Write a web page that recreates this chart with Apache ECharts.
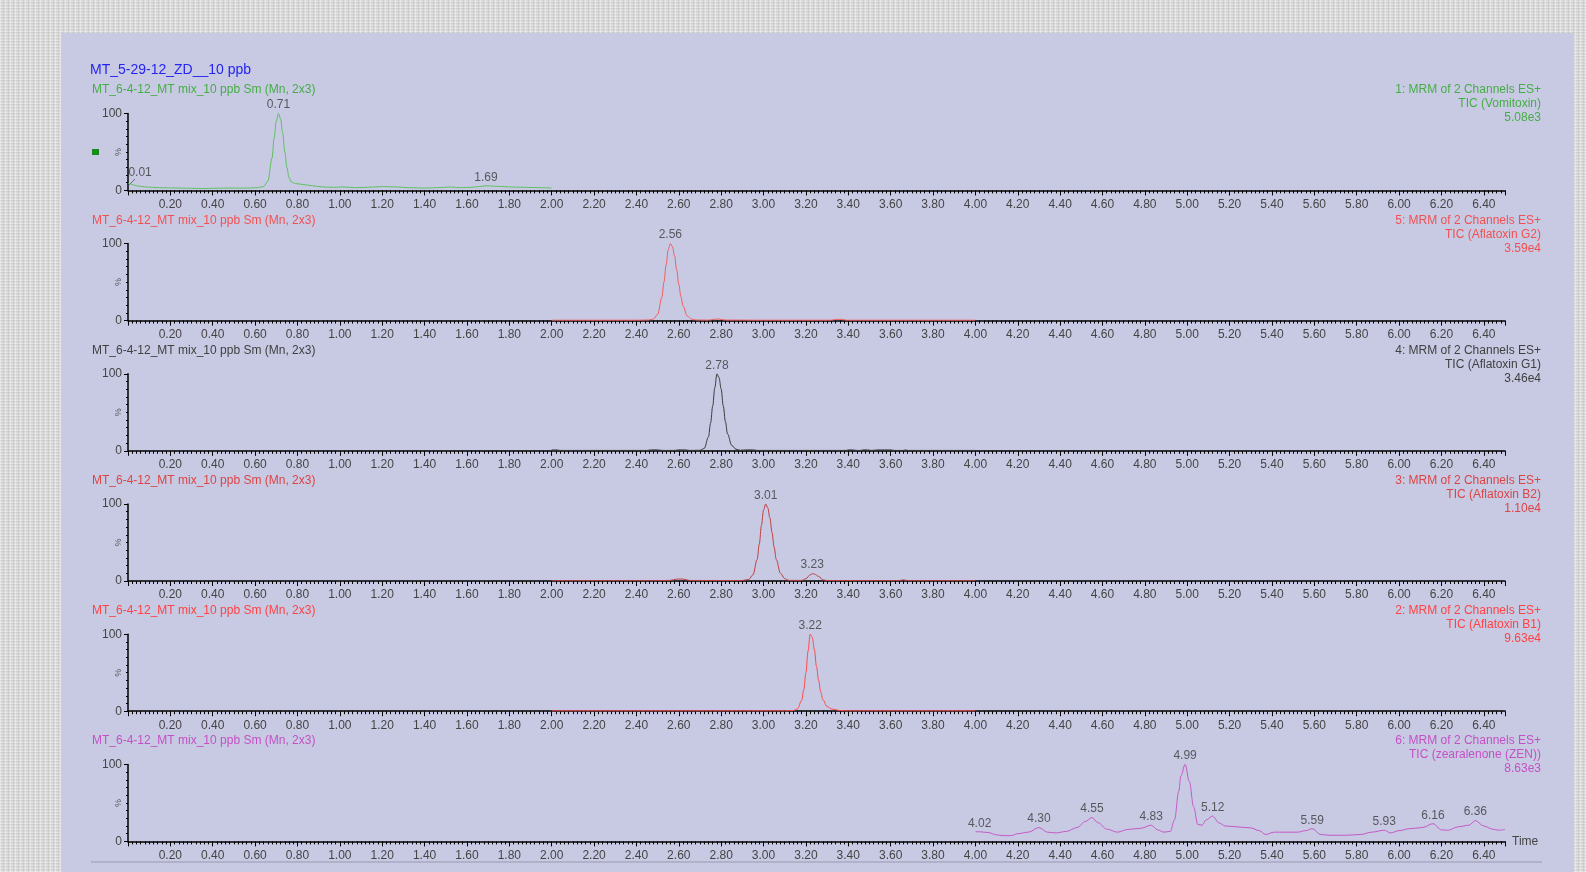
<!DOCTYPE html>
<html>
<head>
<meta charset="utf-8">
<script src="https://cdn.jsdelivr.net/npm/echarts@6.0.0/dist/echarts.min.js"></script>
<style>
  html, body { margin: 0; padding: 0; width: 1586px; height: 872px; overflow: hidden; }
  body {
    background-color: #d9d9d9;
    background-image:
      repeating-linear-gradient(90deg, rgba(255,255,255,0.35) 0 1px, transparent 1px 3px, rgba(0,0,0,0.05) 3px 4px, transparent 4px 5px),
      repeating-linear-gradient(0deg, rgba(255,255,255,0.25) 0 1px, transparent 1px 2px, rgba(0,0,0,0.04) 2px 3px);
  }
  #panel { position: absolute; left: 61px; top: 33px; width: 1513px; height: 839px; background: #c8cae4; }
  #chart { position: absolute; left: 0; top: 0; width: 1586px; height: 872px; }
</style>
</head>
<body>
<div id="panel"></div>
<div id="chart"></div>
<script>
// retention time (min) / relative intensity (%)
var vomitoxin = [
  [0.00, 9], [0.01, 8.5], [0.04, 6], [0.08, 4.5], [0.15, 3.5], [0.25, 3], [0.35, 2.5], [0.45, 3],
  [0.55, 3], [0.61, 3.5], [0.64, 5], [0.66, 12], [0.68, 42], [0.69, 68], [0.70, 90], [0.71, 100],
  [0.72, 93], [0.73, 75], [0.74, 50], [0.75, 30], [0.76, 17], [0.77, 11], [0.79, 9], [0.83, 7.5],
  [0.87, 6], [0.92, 4.5], [0.97, 4], [1.02, 4.5], [1.07, 3.5], [1.13, 4], [1.20, 5], [1.27, 4.5],
  [1.33, 3.5], [1.40, 3], [1.46, 3.5], [1.52, 4.5], [1.57, 3.5], [1.62, 4], [1.66, 5], [1.69, 6],
  [1.73, 5.5], [1.80, 4.5], [1.88, 4], [1.95, 3.5], [2.00, 3]
];
var aflatoxinG2 = [
  [2.00, 0.5], [2.20, 0.5], [2.40, 0.5], [2.46, 0.8], [2.48, 2], [2.50, 8], [2.52, 30], [2.53, 50],
  [2.54, 72], [2.55, 92], [2.56, 100], [2.57, 96], [2.58, 84], [2.59, 66], [2.60, 47], [2.61, 31],
  [2.62, 19], [2.64, 6], [2.66, 2], [2.68, 0.8], [2.74, 0.6], [2.77, 1.8], [2.79, 2], [2.82, 0.7],
  [3.00, 0.5], [3.32, 0.5], [3.34, 1.6], [3.37, 1.6], [3.39, 0.5], [3.70, 0.5], [4.00, 0.5]
];
var aflatoxinG1 = [
  [2.00, 1.2], [2.02, 1.2], [2.04, 0.5], [2.45, 0.5], [2.47, 1.2], [2.50, 1.2], [2.52, 0.5],
  [2.58, 0.5], [2.60, 1.2], [2.63, 1.2], [2.65, 0.5], [2.70, 0.7], [2.72, 3], [2.74, 18], [2.75, 36],
  [2.76, 58], [2.77, 82], [2.78, 100], [2.79, 95], [2.80, 80], [2.81, 58], [2.82, 38], [2.83, 22],
  [2.85, 7], [2.87, 2], [2.89, 0.7], [2.92, 1.2], [2.95, 1.2], [2.97, 0.5], [3.39, 0.5], [3.40, 1.2],
  [3.42, 1.2], [3.44, 0.5], [3.46, 0.5], [3.47, 1.2], [3.49, 1.2], [3.51, 0.5], [3.54, 1.2],
  [3.60, 1.2], [3.62, 0.5], [3.66, 0.5], [3.67, 1.2], [3.68, 0.5], [4.00, 0.5]
];
var aflatoxinB2 = [
  [2.00, 0.5], [2.50, 0.5], [2.56, 0.8], [2.59, 2.5], [2.62, 2.5], [2.65, 0.7], [2.90, 0.6],
  [2.93, 2], [2.95, 8], [2.97, 28], [2.98, 48], [2.99, 72], [3.00, 92], [3.01, 100], [3.02, 95],
  [3.03, 82], [3.04, 63], [3.05, 44], [3.06, 28], [3.08, 10], [3.10, 3], [3.12, 0.8], [3.18, 0.8],
  [3.20, 3], [3.22, 8], [3.23, 9.5], [3.24, 9], [3.26, 6], [3.28, 1.5], [3.30, 0.6], [3.64, 0.5],
  [3.66, 1.5], [3.68, 0.5], [4.00, 0.5]
];
var aflatoxinB1 = [
  [2.00, 0.5], [3.10, 0.5], [3.14, 0.8], [3.16, 3], [3.18, 14], [3.19, 28], [3.20, 50], [3.21, 78],
  [3.22, 100], [3.23, 96], [3.24, 80], [3.25, 58], [3.26, 40], [3.27, 25], [3.28, 15], [3.30, 6],
  [3.32, 3], [3.34, 2], [3.36, 0.8], [3.40, 0.5], [4.00, 0.5]
];
var zearalenone = [
  [4.00, 12.5], [4.02, 12.5], [4.06, 11.5], [4.10, 8.5], [4.13, 7.5], [4.17, 7.5], [4.20, 10],
  [4.25, 12], [4.30, 18], [4.34, 12], [4.38, 11], [4.43, 13], [4.48, 18], [4.52, 26], [4.55, 31],
  [4.58, 24], [4.62, 16], [4.67, 12], [4.72, 15.5], [4.78, 17], [4.83, 21], [4.86, 15], [4.89, 12],
  [4.92, 13], [4.94, 28], [4.96, 65], [4.97, 85], [4.99, 100], [5.01, 78], [5.03, 45], [5.05, 22],
  [5.07, 21], [5.09, 28], [5.12, 33], [5.15, 24], [5.18, 20], [5.23, 19], [5.30, 17.5], [5.34, 14],
  [5.37, 9], [5.41, 12], [5.46, 12], [5.52, 12], [5.56, 14], [5.59, 16.5], [5.63, 9], [5.67, 8],
  [5.75, 8], [5.82, 9], [5.87, 12], [5.93, 14.5], [5.96, 11], [6.00, 14], [6.05, 16.5], [6.11, 18],
  [6.16, 23], [6.20, 15], [6.23, 14.5], [6.28, 19], [6.33, 21], [6.36, 27], [6.40, 20], [6.44, 16],
  [6.47, 14.5], [6.50, 15.5]
];

// labelled peak apex times
var vomitoxinPeaks = [0.01, 0.71, 1.69];
var aflatoxinG2Peaks = [2.56];
var aflatoxinG1Peaks = [2.78];
var aflatoxinB2Peaks = [3.01, 3.23];
var aflatoxinB1Peaks = [3.22];
var zearalenonePeaks = [4.02, 4.30, 4.55, 4.83, 4.99, 5.12, 5.59, 5.93, 6.16, 6.36];

var fileName = 'MT_5-29-12_ZD__10 ppb';
var sampleName = 'MT_6-4-12_MT mix_10 ppb Sm (Mn, 2x3)';
var functionNames = ['1: MRM of 2 Channels ES+', '5: MRM of 2 Channels ES+', '4: MRM of 2 Channels ES+',
  '3: MRM of 2 Channels ES+', '2: MRM of 2 Channels ES+', '6: MRM of 2 Channels ES+'];
var ticNames = ['TIC (Vomitoxin)', 'TIC (Aflatoxin G2)', 'TIC (Aflatoxin G1)',
  'TIC (Aflatoxin B2)', 'TIC (Aflatoxin B1)', 'TIC (zearalenone (ZEN))'];
var maxIntensity = ['5.08e3', '3.59e4', '3.46e4', '1.10e4', '9.63e4', '8.63e3'];

var traces = [vomitoxin, aflatoxinG2, aflatoxinG1, aflatoxinB2, aflatoxinB1, zearalenone];
var peaks = [vomitoxinPeaks, aflatoxinG2Peaks, aflatoxinG1Peaks, aflatoxinB2Peaks, aflatoxinB1Peaks, zearalenonePeaks];

var lineColors = ['#5cc05c', '#f25c5c', '#3c3c3c', '#bd4040', '#ff4a4a', '#c458c4'];
var textColors = ['#45ad45', '#f25050', '#404040', '#dc4444', '#ff4242', '#c450c4'];

var FONT = '"Liberation Sans", Arial, sans-serif';
var LEFT = 128, WIDTH = 1377, TOP0 = 113.4, STEP = 130.2, HEIGHT = 77;

function valueAt(trace, t) {
  var best = trace[0];
  trace.forEach(function (p) {
    if (Math.abs(p[0] - t) < Math.abs(best[0] - t)) best = p;
  });
  return best[1];
}

var chart = echarts.init(document.getElementById('chart'), null, { renderer: 'canvas' });

var grids = [], xAxes = [], yAxes = [], series = [], graphics = [];

traces.forEach(function (trace, i) {
  var top = TOP0 + i * STEP;
  grids.push({ left: LEFT, top: top, width: WIDTH, height: HEIGHT, containLabel: false });

  xAxes.push({
    gridIndex: i,
    type: 'value',
    min: 0,
    max: 6.5,
    interval: 0.2,
    name: i === 5 ? 'Time' : '',
    nameLocation: 'end',
    nameGap: 7,
    nameTextStyle: { color: '#444', fontSize: 12, fontFamily: FONT },
    axisLine: { show: true, onZero: false, lineStyle: { color: '#000', width: 1.5 } },
    axisTick: { show: true, length: 5, lineStyle: { color: '#000', width: 1 } },
    minorTick: { show: true, splitNumber: 10, length: 3, lineStyle: { color: '#000', width: 1 } },
    splitLine: { show: false },
    minorSplitLine: { show: false },
    axisLabel: {
      color: '#444', fontSize: 12, fontFamily: FONT, margin: 8,
      showMinLabel: false, showMaxLabel: false,
      formatter: function (v) { return v.toFixed(2); }
    }
  });

  yAxes.push({
    gridIndex: i,
    type: 'value',
    min: 0,
    max: 100,
    interval: 100,
    axisLine: { show: true, lineStyle: { color: '#000', width: 1.5 } },
    axisTick: { show: true, length: 4, lineStyle: { color: '#000' } },
    minorTick: { show: true, splitNumber: 10, length: 2, lineStyle: { color: '#000' } },
    splitLine: { show: false },
    axisLabel: { color: '#444', fontSize: 12, fontFamily: FONT, margin: 6 }
  });

  series.push({
    type: 'line',
    xAxisIndex: i,
    yAxisIndex: i,
    data: trace,
    showSymbol: false,
    smooth: 0.35,
    smoothMonotone: 'x',
    lineStyle: { color: lineColors[i], width: 1 },
    silent: true,
    z: 3
  });

  series.push({
    type: 'scatter',
    xAxisIndex: i,
    yAxisIndex: i,
    symbolSize: 1,
    itemStyle: { color: 'rgba(0,0,0,0)' },
    silent: true,
    z: 4,
    label: {
      show: true,
      position: 'top',
      distance: 2,
      color: '#3a3a3a',
      fontSize: 12,
      fontFamily: FONT,
      formatter: function (p) { return p.value[0].toFixed(2); }
    },
    data: peaks[i].map(function (t) {
      var item = { value: [t, valueAt(trace, t)] };
      // the first vomitoxin label is pushed off the axis with a leader
      if (i === 0 && t < 0.05) {
        item.label = { offset: [10, -3] };
      }
      return item;
    })
  });

  // "%" caption beside each intensity axis
  graphics.push({
    type: 'text',
    x: 119,
    y: top + HEIGHT / 2,
    rotation: Math.PI / 2,
    silent: true,
    style: { text: '%', fill: '#555', font: '9px ' + FONT, align: 'center', verticalAlign: 'middle' }
  });
  graphics.push({
    type: 'text',
    x: 92,
    y: 90 + i * STEP,
    silent: true,
    style: { text: sampleName, fill: textColors[i], font: '12px ' + FONT, verticalAlign: 'middle', align: 'left' }
  });
  graphics.push({
    type: 'text',
    x: 1541,
    y: 83 + i * STEP,
    silent: true,
    style: {
      text: functionNames[i] + '\n' + ticNames[i] + '\n' + maxIntensity[i],
      fill: textColors[i], font: '12px ' + FONT, align: 'right', verticalAlign: 'top', lineHeight: 14
    }
  });
});

graphics.push({
  type: 'text', x: 90, y: 70.5, silent: true,
  style: { text: fileName, fill: '#2424f0', font: '14px ' + FONT, verticalAlign: 'middle', align: 'left' }
});
graphics.push({
  type: 'rect', x: 92, y: 149, silent: true,
  shape: { width: 7, height: 6 },
  style: { fill: '#1a8a1a' }
});
graphics.push({
  type: 'line', silent: true,
  shape: { x1: 91, y1: 862, x2: 1542, y2: 862 },
  style: { stroke: '#9899ad', lineWidth: 1 }
});
graphics.push({
  type: 'line', silent: true,
  shape: { x1: 129, y1: 185, x2: 135, y2: 179 },
  style: { stroke: '#555', lineWidth: 0.8 }
});

chart.setOption({
  animation: false,
  backgroundColor: 'transparent',
  grid: grids,
  xAxis: xAxes,
  yAxis: yAxes,
  series: series,
  graphic: graphics
});
</script>
</body>
</html>
